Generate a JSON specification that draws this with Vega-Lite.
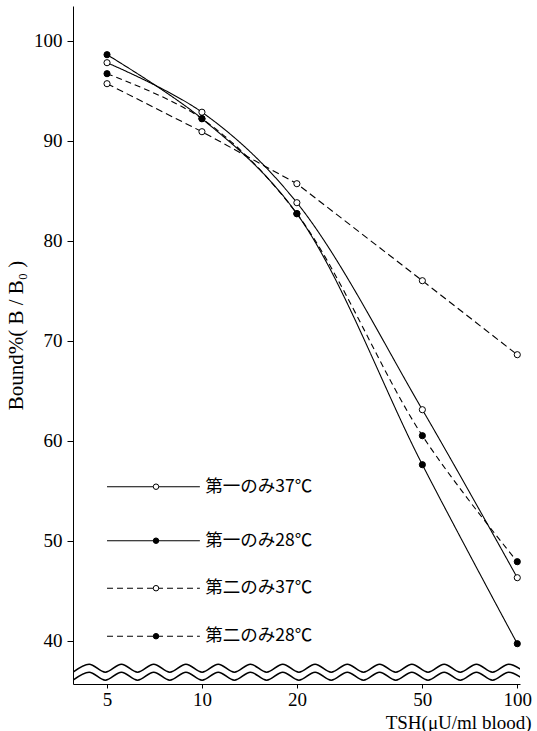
{
  "$schema": "https://vega.github.io/schema/vega-lite/v6.json",
  "width": 447,
  "height": 678,
  "autosize": {"type": "none"},
  "padding": {"left": 73, "top": 6, "right": 17, "bottom": 47},
  "background": "white",
  "config": {
    "view": {"stroke": null},
    "axis": {"grid": false, "domainColor": "black", "tickColor": "black", "labelColor": "black", "titleColor": "black", "labelFont": "Liberation Serif", "titleFont": "Liberation Serif", "titleFontWeight": "normal"}
  },
  "datasets": {
    "pts": [
      {"series": "第一のみ37℃", "dash": "solid", "fill": "open", "tsh": 5, "bound": 97.8},
      {"series": "第一のみ37℃", "dash": "solid", "fill": "open", "tsh": 10, "bound": 92.85},
      {"series": "第一のみ37℃", "dash": "solid", "fill": "open", "tsh": 20, "bound": 83.8},
      {"series": "第一のみ37℃", "dash": "solid", "fill": "open", "tsh": 50, "bound": 63.1},
      {"series": "第一のみ37℃", "dash": "solid", "fill": "open", "tsh": 100, "bound": 46.3},
      {"series": "第一のみ28℃", "dash": "solid", "fill": "filled", "tsh": 5, "bound": 98.6},
      {"series": "第一のみ28℃", "dash": "solid", "fill": "filled", "tsh": 10, "bound": 92.2},
      {"series": "第一のみ28℃", "dash": "solid", "fill": "filled", "tsh": 20, "bound": 82.7},
      {"series": "第一のみ28℃", "dash": "solid", "fill": "filled", "tsh": 50, "bound": 57.6},
      {"series": "第一のみ28℃", "dash": "solid", "fill": "filled", "tsh": 100, "bound": 39.7},
      {"series": "第二のみ37℃", "dash": "dashed", "fill": "open", "tsh": 5, "bound": 95.7},
      {"series": "第二のみ37℃", "dash": "dashed", "fill": "open", "tsh": 10, "bound": 90.9},
      {"series": "第二のみ37℃", "dash": "dashed", "fill": "open", "tsh": 20, "bound": 85.7},
      {"series": "第二のみ37℃", "dash": "dashed", "fill": "open", "tsh": 50, "bound": 76.0},
      {"series": "第二のみ37℃", "dash": "dashed", "fill": "open", "tsh": 100, "bound": 68.6},
      {"series": "第二のみ28℃", "dash": "dashed", "fill": "filled", "tsh": 5, "bound": 96.7},
      {"series": "第二のみ28℃", "dash": "dashed", "fill": "filled", "tsh": 10, "bound": 92.2},
      {"series": "第二のみ28℃", "dash": "dashed", "fill": "filled", "tsh": 20, "bound": 82.7},
      {"series": "第二のみ28℃", "dash": "dashed", "fill": "filled", "tsh": 50, "bound": 60.5},
      {"series": "第二のみ28℃", "dash": "dashed", "fill": "filled", "tsh": 100, "bound": 47.9}
    ],
    "legend": [
      {"series": "第一のみ37℃", "dash": "solid", "fill": "open", "x0": 5.0, "x1": 9.85, "xp": 7.15, "xt": 10.25, "y": 55.4},
      {"series": "第一のみ28℃", "dash": "solid", "fill": "filled", "x0": 5.0, "x1": 9.85, "xp": 7.15, "xt": 10.25, "y": 50.0},
      {"series": "第二のみ37℃", "dash": "dashed", "fill": "open", "x0": 5.0, "x1": 9.85, "xp": 7.15, "xt": 10.25, "y": 45.25},
      {"series": "第二のみ28℃", "dash": "dashed", "fill": "filled", "x0": 5.0, "x1": 9.85, "xp": 7.15, "xt": 10.25, "y": 40.45}
    ],
    "wave": [
      {"w": "upper", "t": 0, "y": 36.85}, {"w": "upper", "t": 1, "y": 37.65}, {"w": "upper", "t": 2, "y": 36.85}, {"w": "upper", "t": 3, "y": 37.65},
      {"w": "upper", "t": 4, "y": 36.85}, {"w": "upper", "t": 5, "y": 37.65}, {"w": "upper", "t": 6, "y": 36.85}, {"w": "upper", "t": 7, "y": 37.65},
      {"w": "upper", "t": 8, "y": 36.85}, {"w": "upper", "t": 9, "y": 37.65}, {"w": "upper", "t": 10, "y": 36.85}, {"w": "upper", "t": 11, "y": 37.65},
      {"w": "upper", "t": 12, "y": 36.85}, {"w": "upper", "t": 13, "y": 37.65}, {"w": "upper", "t": 14, "y": 36.85}, {"w": "upper", "t": 15, "y": 37.65},
      {"w": "upper", "t": 16, "y": 36.85}, {"w": "upper", "t": 17, "y": 37.65}, {"w": "upper", "t": 18, "y": 36.85}, {"w": "upper", "t": 19, "y": 37.65},
      {"w": "upper", "t": 20, "y": 36.85}, {"w": "upper", "t": 21, "y": 37.65}, {"w": "upper", "t": 22, "y": 36.85}, {"w": "upper", "t": 23, "y": 37.65},
      {"w": "upper", "t": 24, "y": 36.85}, {"w": "upper", "t": 25, "y": 37.65}, {"w": "upper", "t": 26, "y": 36.85}, {"w": "upper", "t": 27, "y": 37.65},
      {"w": "upper", "t": 28, "y": 36.85},
      {"w": "lower", "t": 0, "y": 36.05}, {"w": "lower", "t": 1, "y": 36.85}, {"w": "lower", "t": 2, "y": 36.05}, {"w": "lower", "t": 3, "y": 36.85},
      {"w": "lower", "t": 4, "y": 36.05}, {"w": "lower", "t": 5, "y": 36.85}, {"w": "lower", "t": 6, "y": 36.05}, {"w": "lower", "t": 7, "y": 36.85},
      {"w": "lower", "t": 8, "y": 36.05}, {"w": "lower", "t": 9, "y": 36.85}, {"w": "lower", "t": 10, "y": 36.05}, {"w": "lower", "t": 11, "y": 36.85},
      {"w": "lower", "t": 12, "y": 36.05}, {"w": "lower", "t": 13, "y": 36.85}, {"w": "lower", "t": 14, "y": 36.05}, {"w": "lower", "t": 15, "y": 36.85},
      {"w": "lower", "t": 16, "y": 36.05}, {"w": "lower", "t": 17, "y": 36.85}, {"w": "lower", "t": 18, "y": 36.05}, {"w": "lower", "t": 19, "y": 36.85},
      {"w": "lower", "t": 20, "y": 36.05}, {"w": "lower", "t": 21, "y": 36.85}, {"w": "lower", "t": 22, "y": 36.05}, {"w": "lower", "t": 23, "y": 36.85},
      {"w": "lower", "t": 24, "y": 36.05}, {"w": "lower", "t": 25, "y": 36.85}, {"w": "lower", "t": 26, "y": 36.05}, {"w": "lower", "t": 27, "y": 36.85},
      {"w": "lower", "t": 28, "y": 36.05}
    ]
  },
  "layer": [
    {
      "layer": [
        {
          "data": {"name": "pts"},
          "transform": [{"filter": "datum.series !== '第二のみ37℃'"}],
          "mark": {"type": "line", "interpolate": "catmull-rom", "color": "black", "strokeWidth": 1.1},
          "encoding": {
            "x": {"field": "tsh", "type": "quantitative", "scale": {"type": "log", "domain": [3.9, 102], "nice": false},
                  "axis": {"values": [5, 10, 20, 50, 100], "labelFontSize": 19, "tickSize": 4, "labelPadding": 2, "title": "TSH(μU/ml blood)", "titleFontSize": 19, "titleAnchor": "end", "titleAlign": "right", "titleX": 458, "titlePadding": 4}},
            "y": {"field": "bound", "type": "quantitative", "scale": {"domain": [35.67, 103.47], "nice": false, "zero": false},
                  "axis": {"values": [40, 50, 60, 70, 80, 90, 100], "labelFontSize": 19, "tickSize": 6, "labelPadding": 5, "title": "Bound%(  B  /  B₀  )", "titleFontSize": 21, "titlePadding": 7, "titleY": 329}},
            "detail": {"field": "series"},
            "strokeDash": {"field": "dash", "type": "nominal", "scale": {"domain": ["solid", "dashed"], "range": [[1, 0], [6, 4]]}, "legend": null}
          }
        },
        {
          "data": {"name": "pts"},
          "transform": [{"filter": "datum.series === '第二のみ37℃'"}],
          "mark": {"type": "line", "interpolate": "linear", "color": "black", "strokeWidth": 1.1, "strokeDash": [7, 4]},
          "encoding": {
            "x": {"field": "tsh", "type": "quantitative"},
            "y": {"field": "bound", "type": "quantitative"}
          }
        },
        {
          "data": {"name": "pts"},
          "mark": {"type": "point", "filled": true, "shape": "circle", "size": 38, "stroke": "black", "strokeWidth": 1, "opacity": 1},
          "encoding": {
            "x": {"field": "tsh", "type": "quantitative"},
            "y": {"field": "bound", "type": "quantitative"},
            "fill": {"field": "fill", "type": "nominal", "scale": {"domain": ["open", "filled"], "range": ["white", "black"]}, "legend": null}
          }
        },
        {
          "data": {"name": "legend"},
          "mark": {"type": "rule", "color": "black", "strokeWidth": 1.1},
          "encoding": {
            "x": {"field": "x0", "type": "quantitative"},
            "x2": {"field": "x1"},
            "y": {"field": "y", "type": "quantitative"},
            "strokeDash": {"field": "dash", "type": "nominal", "legend": null}
          }
        },
        {
          "data": {"name": "legend"},
          "mark": {"type": "point", "filled": true, "shape": "circle", "size": 30, "stroke": "black", "strokeWidth": 1, "opacity": 1},
          "encoding": {
            "x": {"field": "xp", "type": "quantitative"},
            "y": {"field": "y", "type": "quantitative"},
            "fill": {"field": "fill", "type": "nominal", "legend": null}
          }
        },
        {
          "data": {"name": "legend"},
          "mark": {"type": "text", "align": "left", "baseline": "middle", "font": "Noto Sans CJK JP", "fontSize": 17.5, "color": "black"},
          "encoding": {
            "x": {"field": "xt", "type": "quantitative"},
            "y": {"field": "y", "type": "quantitative"},
            "text": {"field": "series"}
          }
        }
      ]
    },
    {
      "data": {"name": "wave"},
      "mark": {"type": "line", "interpolate": "monotone", "color": "black", "strokeWidth": 1.6, "clip": true},
      "encoding": {
        "x": {"field": "t", "type": "quantitative", "scale": {"domain": [0, 27.7], "nice": false, "zero": false}, "axis": null},
        "y": {"field": "y", "type": "quantitative"},
        "detail": {"field": "w"}
      }
    }
  ],
  "resolve": {"scale": {"x": "independent"}}
}
